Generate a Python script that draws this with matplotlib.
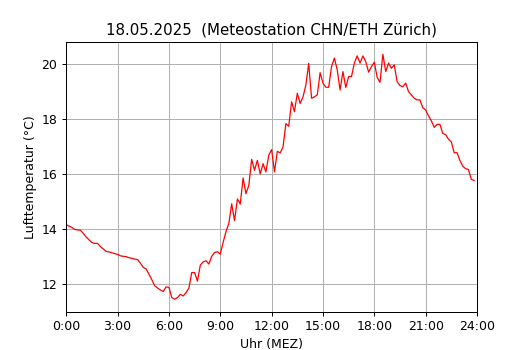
import numpy as np
import matplotlib
matplotlib.use("Agg")
import matplotlib.pyplot as plt

# Lufttemperatur alle 10 Minuten, 0:00 .. 23:50
temp = [
    14.15, 14.10, 14.05, 13.98, 13.96, 13.95,
    13.83, 13.70, 13.60, 13.50, 13.47, 13.47,
    13.35, 13.27, 13.18, 13.16, 13.13, 13.10,
    13.07, 13.02, 13.00, 12.99, 12.95, 12.93,
    12.90, 12.88, 12.75, 12.60, 12.54, 12.35,
    12.15, 11.93, 11.85, 11.78, 11.72, 11.89,
    11.87, 11.50, 11.44, 11.50, 11.62, 11.56,
    11.68, 11.85, 12.41, 12.41, 12.10, 12.68,
    12.80, 12.84, 12.72, 13.00, 13.14, 13.17,
    13.08, 13.51, 13.90, 14.20, 14.91, 14.30,
    15.09, 14.90, 15.85, 15.28, 15.58, 16.53,
    16.13, 16.49, 16.00, 16.37, 16.07, 16.68,
    16.88, 16.07, 16.82, 16.76, 16.98, 17.83,
    17.73, 18.62, 18.26, 18.93, 18.56, 18.80,
    19.23, 20.02, 18.75, 18.80, 18.87, 19.68,
    19.30, 19.15, 19.15, 19.90, 20.21, 19.78,
    19.05, 19.72, 19.14, 19.54, 19.54, 20.03,
    20.29, 20.03, 20.29, 20.08, 19.70, 19.90,
    20.06, 19.51, 19.33, 20.35, 19.72, 20.03,
    19.84, 19.96, 19.35, 19.21, 19.17, 19.30,
    18.99, 18.87, 18.75, 18.69, 18.69, 18.40,
    18.32, 18.11, 17.93, 17.69, 17.80, 17.80,
    17.47, 17.43, 17.26, 17.16, 16.77, 16.77,
    16.49, 16.28, 16.19, 16.16, 15.80, 15.76,
]
hours = np.arange(len(temp)) / 6.0

xticks = [0, 3, 6, 9, 12, 15, 18, 21, 24]
xlabels = ["0:00", "3:00", "6:00", "9:00", "12:00", "15:00", "18:00", "21:00", "24:00"]

dpi = 90
fig, ax = plt.subplots(figsize=(530 / dpi, 350 / dpi), dpi=dpi)
ax.plot(hours, temp, color="red", linewidth=1)
ax.set_xlim(0, 24)
ax.set_xticks(xticks)
ax.set_xticklabels(xlabels)
ax.grid(True)
ax.set_title("18.05.2025  (Meteostation CHN/ETH Zürich)")
ax.set_xlabel("Uhr (MEZ)")
ax.set_ylabel("Lufttemperatur (°C)")

fig.savefig("out.png", dpi=dpi)
